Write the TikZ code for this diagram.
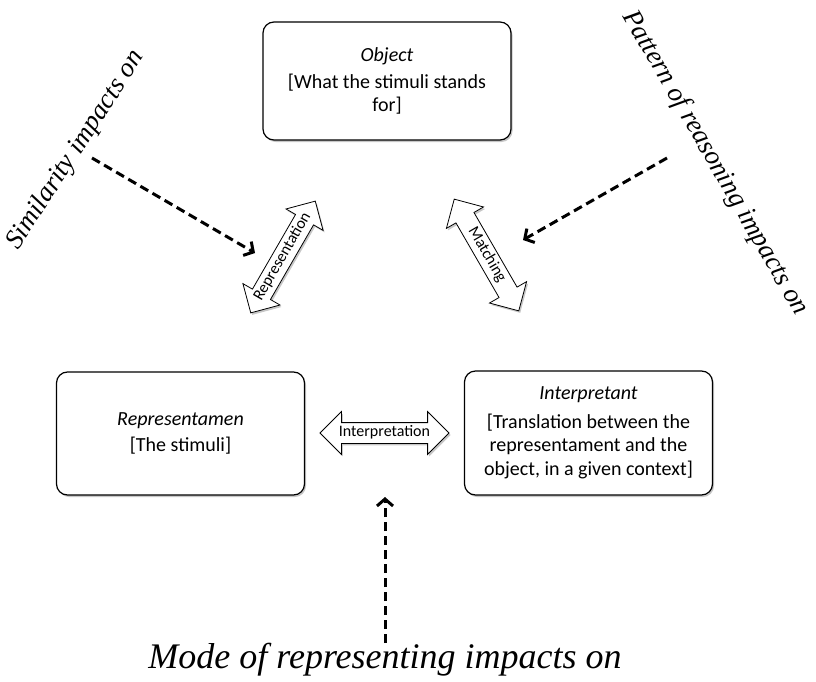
\documentclass[tikz,border=0pt]{standalone}
\usepackage{fontspec}
\setmainfont{Carlito}
\newfontfamily\timesfont{Liberation Serif}
\usetikzlibrary{shapes.arrows,arrows.meta,shadows}
\begin{document}
\begin{tikzpicture}[x=1pt,y=-1pt,
  softshadow/.style={drop shadow={shadow xshift=1.5pt,shadow yshift=-2pt,opacity=0.22,fill=black}},
  box/.style={draw,line width=1.2pt,rounded corners=11pt,fill=white,
    minimum width=248pt,minimum height=120pt,align=center,
    font=\fontsize{20}{23.5}\selectfont,softshadow},
  blockarrow/.style={double arrow,draw,line width=0.8pt,fill=white,
    double arrow head extend=11pt,double arrow tip angle=90,
    minimum height=129pt,inner xsep=0pt,inner ysep=3.5pt,
    text height=10pt,text depth=3pt,font=\fontsize{16}{18}\selectfont,softshadow},
  impact/.style={line width=3pt,dash pattern=on 9pt off 5pt,
    -{Straight Barb[length=7pt,width=16pt,line width=3pt]}},
  note/.style={inner sep=0pt,font=\timesfont\itshape\fontsize{27}{30}\selectfont}
]
\useasboundingbox (0,0) rectangle (816,682);

% main boxes
\node[box,minimum height=118pt] (object) at (387,81)
  {\textit{Object}\\[3pt][What the stimuli stands\\for]};
\node[box,minimum height=123pt] (repr) at (180.5,433.5)
  {\textit{Representamen}\\[3pt][The stimuli]};
\node[box,minimum height=124pt] (interp) at (588.5,433)
  {\textit{Interpretant}\\[5pt][Translation between the\\representament and the\\object, in a given context]};

% block arrows
\node[blockarrow,rotate=60] (representation) at (283,257) {Representation};
\node[blockarrow,rotate=-60] (matching) at (486.5,255) {Matching};
\node[blockarrow] (interpretation) at (384.5,433) {Interpretation};

% impact labels
\node[note,rotate=57] (similarity) at (76,150) {Similarity impacts on};
\node[note,rotate=-60] (pattern) at (715,163) {Pattern of reasoning impacts on};
\node[note,font=\timesfont\itshape\fontsize{36}{40}\selectfont,anchor=base] (mode) at (385,668) {Mode of representing impacts on};

% dashed impact arrows
\coordinate (simStart) at (92,158);
\coordinate (simTip) at (255,253);
\coordinate (patStart) at (667,158);
\coordinate (patTip) at (523,240);
\coordinate (modeStart) at (385,643);
\coordinate (modeTip) at (385,497);
\draw[impact] (simStart) -- (simTip);
\draw[impact] (patStart) -- (patTip);
\draw[impact] (modeStart) -- (modeTip);
\end{tikzpicture}
\end{document}
